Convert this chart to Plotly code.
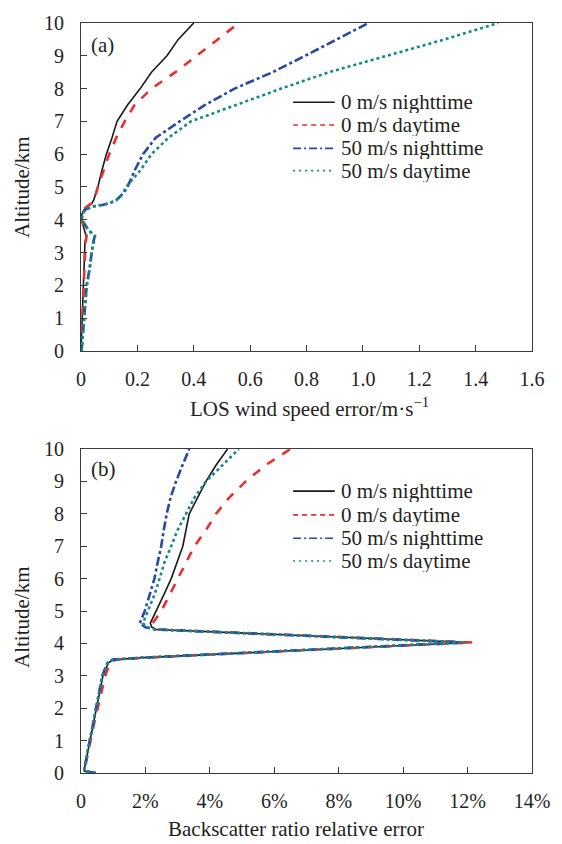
import plotly.graph_objects as go

# ---------------- Panel (a): LOS wind speed error (m/s) ----------------
alt_a = [0, 0.5, 1.0, 1.5, 2.0, 2.5, 3.0, 3.3, 3.5, 3.7, 4.0, 4.15, 4.3, 4.4, 4.45,
         4.5, 4.6, 4.8, 5.0, 5.5, 6.0, 6.5, 7.0, 7.5, 8.0, 8.5, 9.0, 9.5, 10.0]
a_0_night = [0, 0.002, 0.004, 0.006, 0.007, 0.009, 0.011, 0.014, 0.018, 0.012, 0.002, 0.002,
             0.010, 0.022, 0.030, 0.038, 0.045, 0.053, 0.060, 0.074, 0.090, 0.110, 0.128,
             0.165, 0.210, 0.250, 0.305, 0.345, 0.400]
a_0_day = [0, 0.003, 0.005, 0.007, 0.010, 0.012, 0.014, 0.016, 0.020, 0.012, 0.002, 0.003,
           0.008, 0.020, 0.028, 0.037, 0.043, 0.053, 0.060, 0.080, 0.100, 0.125, 0.155,
           0.190, 0.250, 0.335, 0.410, 0.487, 0.560]
a_50_night = [0.002, 0.006, 0.010, 0.015, 0.020, 0.030, 0.037, 0.043, 0.049, 0.025, 0.003,
              0.004, 0.014, 0.040, 0.075, 0.100, 0.125, 0.150, 0.165, 0.190, 0.220, 0.265,
              0.350, 0.440, 0.545, 0.680, 0.795, 0.907, 1.020]
a_50_day = [0.002, 0.006, 0.011, 0.016, 0.021, 0.031, 0.038, 0.044, 0.050, 0.025, 0.003,
            0.004, 0.014, 0.040, 0.075, 0.100, 0.125, 0.148, 0.160, 0.210, 0.250, 0.310,
            0.390, 0.550, 0.710, 0.880, 1.090, 1.290, 1.480]

# ---------------- Panel (b): backscatter ratio relative error (%) ----------------
alt_b = [0, 0.05, 0.1, 0.5, 1.0, 1.5, 2.0, 2.5, 3.0, 3.4, 3.5, 3.56, 4.03, 4.43, 4.5,
         4.62, 5.0, 5.5, 6.0, 6.5, 7.0, 7.5, 8.0, 8.5, 9.0, 9.5, 10.0]
b_0_night = [0.45, 0.12, 0.10, 0.18, 0.28, 0.38, 0.48, 0.58, 0.68, 0.85, 1.02, 1.95, 12.05,
             2.34, 2.20, 2.15, 2.34, 2.57, 2.80, 2.98, 3.16, 3.26, 3.36, 3.62, 3.88, 4.19, 4.55]
b_0_day = [0.45, 0.13, 0.11, 0.19, 0.30, 0.40, 0.52, 0.63, 0.75, 0.90, 1.08, 2.00, 12.15,
           2.40, 2.25, 2.22, 2.49, 2.75, 3.00, 3.26, 3.52, 3.88, 4.19, 4.60, 5.11, 5.73, 6.50]
b_50_night = [0.45, 0.12, 0.10, 0.17, 0.27, 0.37, 0.47, 0.57, 0.66, 0.82, 0.98, 1.90, 11.85,
              2.30, 2.00, 1.82, 1.98, 2.13, 2.28, 2.38, 2.49, 2.57, 2.66, 2.78, 2.95, 3.15, 3.36]
b_50_day = [0.45, 0.12, 0.10, 0.17, 0.27, 0.37, 0.47, 0.57, 0.67, 0.83, 1.00, 1.92, 11.95,
            2.32, 2.05, 1.92, 2.08, 2.28, 2.44, 2.59, 2.80, 3.00, 3.26, 3.52, 3.88, 4.38, 4.90]

series_names = ["0 m/s nighttime", "0 m/s daytime", "50 m/s nighttime", "50 m/s daytime"]
colors = ["#1a1a1a", "#e8312f", "#2748a8", "#14898a"]
dashes = ["solid", "dash", "dashdot", "dot"]
legend_dashes = ["solid", "5px,4px", "8px,3px,2px,3px", "2px,4px"]
widths = [1.6, 2.6, 2.6, 2.6]

a_series = [a_0_night, a_0_day, a_50_night, a_50_day]
b_series = [b_0_night, b_0_day, b_50_night, b_50_day]

a_tickvals = [0, 0.2, 0.4, 0.6, 0.8, 1.0, 1.2, 1.4, 1.6]
a_ticktext = ["0", "0.2", "0.4", "0.6", "0.8", "1.0", "1.2", "1.4", "1.6"]
b_tickvals = [0, 2, 4, 6, 8, 10, 12, 14]
b_ticktext = ["0", "2%", "4%", "6%", "8%", "10%", "12%", "14%"]
y_tickvals = list(range(0, 11))

FONT = "Liberation Serif, Times New Roman, serif"
TXT = "#231f20"

fig = go.Figure()
for vals, name, c, d, w in zip(a_series, series_names, colors, dashes, widths):
    fig.add_trace(go.Scatter(x=vals, y=alt_a, mode="lines", name=name,
                             line=dict(color=c, dash=d, width=w),
                             xaxis="x", yaxis="y", showlegend=False))
for vals, name, c, d, w in zip(b_series, series_names, colors, dashes, widths):
    fig.add_trace(go.Scatter(x=vals, y=alt_b, mode="lines", name=name,
                             line=dict(color=c, dash=d, width=w),
                             xaxis="x2", yaxis="y2", showlegend=False))

W, H = 562, 844
L, R, T, B = 81, 26, 16, 71
pw, ph = W - L - R, H - T - B


def py(p):  # pixel y -> paper y
    return (H - B - p) / ph


def px(p):  # pixel x -> paper x
    return (p - L) / pw


axis_common = dict(showline=True, linecolor="#3a3a3a", linewidth=1, mirror=True,
                   ticks="inside", ticklen=6, tickcolor="#3a3a3a", showgrid=False,
                   zeroline=False, tickfont=dict(family=FONT, size=20, color=TXT))

fig.update_layout(
    width=W, height=H,
    margin=dict(l=L, r=R, t=T, b=B),
    paper_bgcolor="white", plot_bgcolor="white",
    font=dict(family=FONT, color=TXT),
    showlegend=False,
    xaxis=dict(domain=[0, 1], anchor="y", range=[0, 1.6], tickvals=a_tickvals,
               ticktext=a_ticktext, ticklabelstandoff=10, **axis_common),
    yaxis=dict(domain=[py(347), 1], anchor="x", range=[0, 10], tickvals=y_tickvals,
               ticklabelstandoff=12, **axis_common),
    xaxis2=dict(domain=[0, 1], anchor="y2", range=[0, 14], tickvals=b_tickvals,
                ticktext=b_ticktext, ticklabelstandoff=10, **axis_common),
    yaxis2=dict(domain=[0, py(446)], anchor="x2", range=[0, 10], tickvals=y_tickvals,
                ticklabelstandoff=12, **axis_common),
)

ann = [
    dict(text="(a)", x=px(89), y=py(38), xanchor="left", yanchor="middle"),
    dict(text="(b)", x=px(89), y=py(466), xanchor="left", yanchor="middle"),
    dict(text="LOS wind speed error/m·s<sup>−1</sup>", x=px(312), y=py(404),
         xanchor="center", yanchor="middle"),
    dict(text="Backscatter ratio relative error", x=px(298), y=py(830),
         xanchor="center", yanchor="middle"),
    dict(text="Altitude/km", x=px(22), y=py(182), textangle=-90,
         xanchor="center", yanchor="middle"),
    dict(text="Altitude/km", x=px(22), y=py(616), textangle=-90,
         xanchor="center", yanchor="middle"),
]
for a in ann:
    fig.add_annotation(xref="paper", yref="paper", showarrow=False,
                       font=dict(family=FONT, size=21, color=TXT), **a)

# Manual legends (one per panel) drawn as line samples + text
legend_rows = {"a": [96, 119, 142.5, 165], "b": [488.5, 512.5, 536, 559]}
for rows in legend_rows.values():
    for yy, name, c, ld in zip(rows, series_names, colors, legend_dashes):
        fig.add_shape(type="line", xref="paper", yref="paper",
                      x0=px(295), x1=px(337), y0=py(yy), y1=py(yy),
                      line=dict(color=c, width=1.6, dash=ld))
        fig.add_annotation(xref="paper", yref="paper", showarrow=False,
                           text=name, x=px(341), y=py(yy), xanchor="left", yanchor="middle",
                           height=22, valign="middle",
                           font=dict(family=FONT, size=21, color=TXT))

fig.write_html("out.html")
